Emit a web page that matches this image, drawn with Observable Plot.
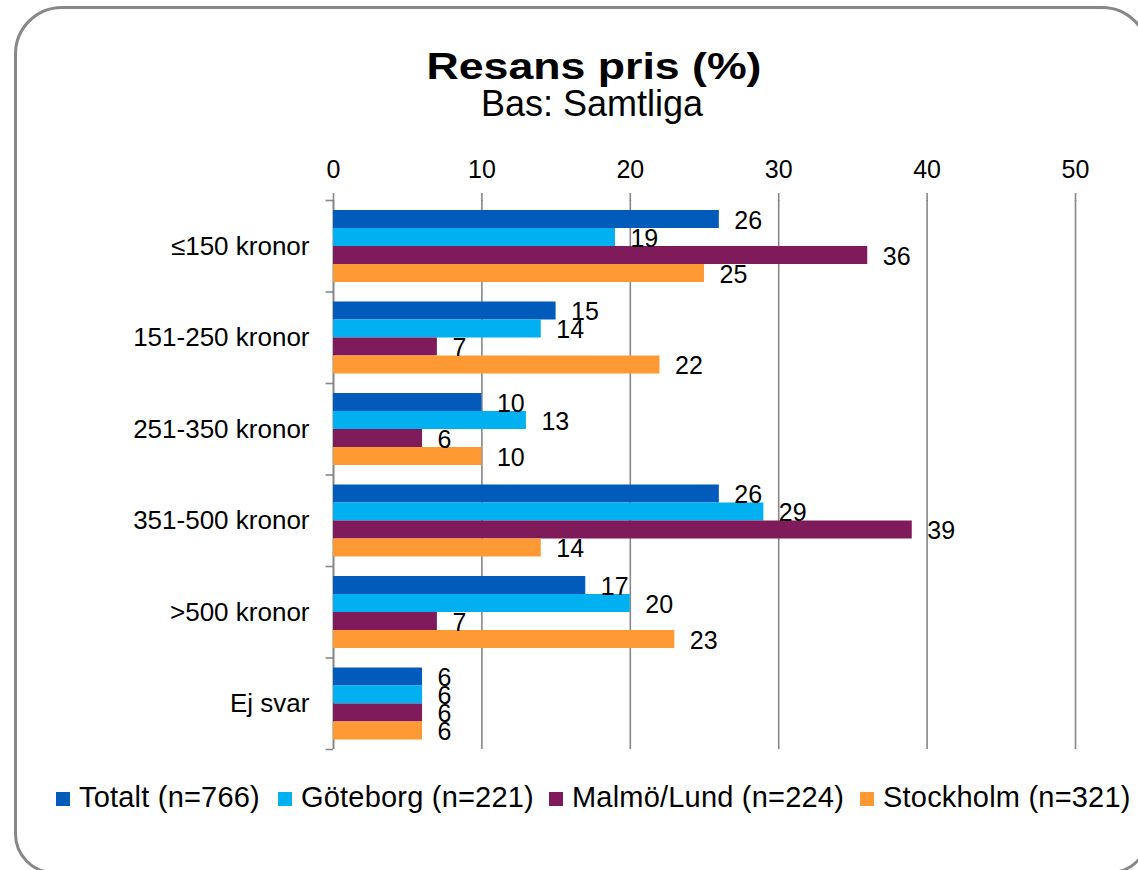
<!DOCTYPE html>
<html>
<head>
<meta charset="utf-8">
<script src="https://cdn.jsdelivr.net/npm/d3@7"></script>
<script src="https://cdn.jsdelivr.net/npm/@observablehq/plot@0.6"></script>
<style>
  html, body { margin: 0; padding: 0; background: #fff; }
  body { font-family: Arial, "Liberation Sans", sans-serif; }
  #wrap { position: relative; width: 1138px; height: 870px; overflow: hidden; background: #fff; }
  #frame { position: absolute; left: 14px; top: 6px; width: 1136px; height: 868px; border: 3px solid #878787; border-radius: 48px 48px 40px 40px; box-sizing: border-box; }
  #title { position: absolute; left: 0; width: 1188px; top: 49px; text-align: center; font-weight: bold; font-size: 36px; line-height: 36px; color: #000; transform: scaleX(1.24); transform-origin: 594px 0; }
  #subtitle { position: absolute; left: 0; width: 1184px; top: 86px; text-align: center; font-size: 36px; line-height: 36px; color: #000; }
  #chart { position: absolute; left: 0; top: 0; }
  #legend { position: absolute; left: 0; top: 780px; width: 1138px; height: 34px; font-size: 29px; letter-spacing: 0.2px; line-height: 34px; color: #000; white-space: nowrap; }
  .item { position: absolute; top: 0; display: flex; align-items: center; }
  .sw { width: 14px; height: 14px; margin-right: 9px; margin-top: 4px; }
</style>
</head>
<body>
<div id="wrap">
  <div id="frame"></div>
  <div id="title">Resans pris (%)</div>
  <div id="subtitle">Bas: Samtliga</div>
  <div id="chart"></div>
  <div id="legend"></div>
</div>
<script>
const categories = ["≤150 kronor", "151-250 kronor", "251-350 kronor", "351-500 kronor", ">500 kronor", "Ej svar"];
const seriesNames = ["Totalt (n=766)", "Göteborg (n=221)", "Malmö/Lund (n=224)", "Stockholm (n=321)"];
const totalt    = [26, 15, 10, 26, 17, 6];
const goteborg  = [19, 14, 13, 29, 20, 6];
const malmoLund = [36,  7,  6, 39,  7, 6];
const stockholm = [25, 22, 10, 14, 23, 6];
const xTicks = [0, 10, 20, 30, 40, 50];
const colors = ["#005BBB", "#00B0F0", "#7F1B5B", "#FF9933"];
const legendLeft = [56, 278, 549, 860];

const seriesValues = [totalt, goteborg, malmoLund, stockholm];
const rows = [];
seriesNames.forEach((s, j) => categories.forEach((c, i) => rows.push({series: s, si: j, cat: c, value: seriesValues[j][i]})));

const W = 1138, H = 770;
const mTop = 200, mBottom = 21, mLeft = 333, mRight = 63;
const bw = (H - mTop - mBottom) / categories.length; // band height
const pad = 10;
const bh = (bw - 2 * pad + 0.5) / seriesNames.length;
const grid = "#878787";

const marks = [
  Plot.gridX(xTicks, {stroke: grid, strokeOpacity: 1, strokeWidth: 1.6}),
  Plot.axisX(xTicks, {anchor: "top", label: null, tickSize: 8, tickPadding: 15, fontSize: 25, stroke: grid, strokeWidth: 1.6, fill: "#000"}),
  Plot.ruleX([0], {stroke: grid, strokeWidth: 1.6}),
  Plot.ruleY(categories, {y: d => d, x1: -0.5, x2: 0, dy: -bw / 2, stroke: grid, strokeWidth: 1.6}),
  Plot.ruleY(categories.slice(-1), {y: d => d, x1: -0.5, x2: 0, dy: bw / 2, stroke: grid, strokeWidth: 1.6}),
];
seriesNames.forEach((s, j) => {
  const d = rows.filter(r => r.si === j);
  marks.push(Plot.barX(d, {
    y: "cat", x: "value", fill: colors[j],
    insetTop: pad + j * bh, insetBottom: bw - pad - (j + 1) * bh
  }));
});
seriesNames.forEach((s, j) => {
  const d = rows.filter(r => r.si === j);
  marks.push(Plot.text(d, {
    y: "cat", x: "value", text: r => String(r.value),
    textAnchor: "start", dx: 15, dy: -bw / 2 + pad + j * bh + bh / 2 + 1,
    fontSize: 25, fill: "#000"
  }));
});
marks.push(Plot.axisY({label: null, tickSize: 0, tickPadding: 24, fontSize: 26, fill: "#000"}));

const chart = Plot.plot({
  width: W, height: H,
  marginTop: mTop, marginBottom: mBottom, marginLeft: mLeft, marginRight: mRight,
  style: {fontFamily: "Arial, 'Liberation Sans', sans-serif", background: "transparent", color: "#000"},
  x: {domain: [0, 50], axis: null, label: null},
  y: {domain: categories, padding: 0, round: false, axis: null, label: null},
  marks
});
document.getElementById("chart").appendChild(chart);

const legend = document.getElementById("legend");
seriesNames.forEach((s, j) => {
  const it = document.createElement("div");
  it.className = "item";
  it.style.left = legendLeft[j] + "px";
  const sw = document.createElement("span");
  sw.className = "sw";
  sw.style.background = colors[j];
  const t = document.createElement("span");
  t.textContent = s;
  it.appendChild(sw); it.appendChild(t);
  legend.appendChild(it);
});
</script>
</body>
</html>
